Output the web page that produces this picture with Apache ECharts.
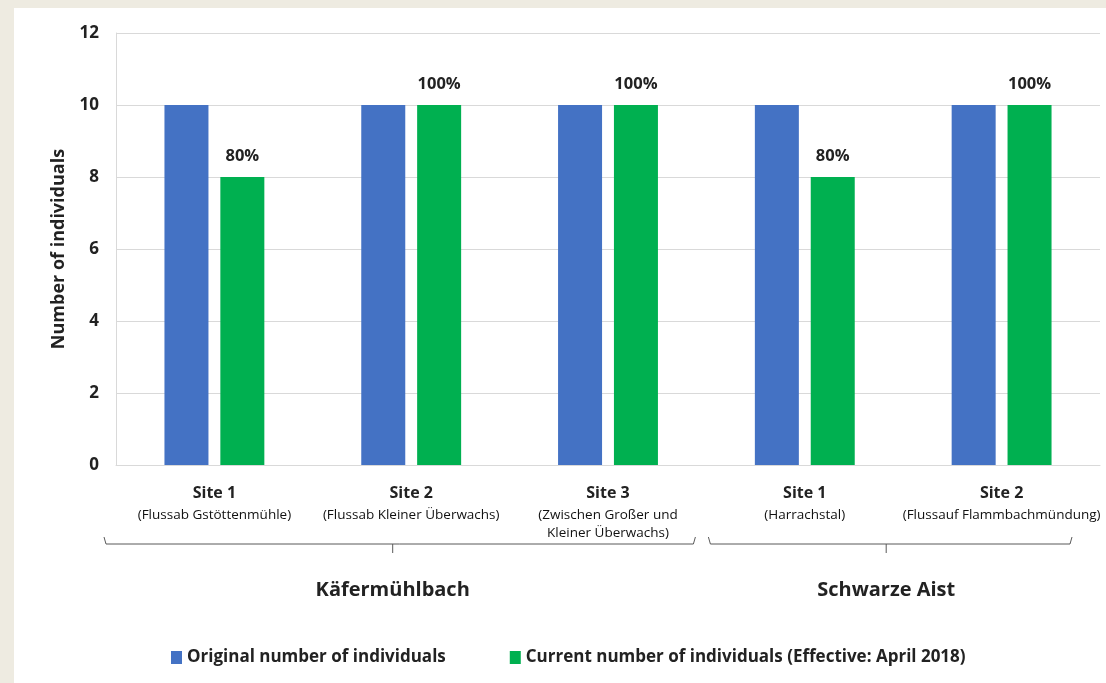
<!DOCTYPE html>
<html>
<head>
<meta charset="utf-8">
<script src="https://cdn.jsdelivr.net/npm/echarts@6/dist/echarts.min.js"></script>
<style>
  html, body {margin: 0; padding: 0; background: #EEEBE1; width: 1106px; height: 683px; overflow: hidden;}
  #chart {position: absolute; left: 14px; top: 8px; width: 1092px; height: 675px; background: #fff;}
</style>
</head>
<body>
<div id="chart"></div>
<script>
const sites = ['Site 1', 'Site 2', 'Site 3', 'Site 1', 'Site 2'];
const siteNotes = [
    ['(Flussab Gstöttenmühle)'],
    ['(Flussab Kleiner Überwachs)'],
    ['(Zwischen Großer und', 'Kleiner Überwachs)'],
    ['(Harrachstal)'],
    ['(Flussauf Flammbachmündung)']
];
const originalCount = [10, 10, 10, 10, 10];
const currentCount = [8, 10, 10, 8, 10];
const groups = ['Käfermühlbach', 'Schwarze Aist'];
const groupSpans = [[0, 2], [3, 4]];
const yTicks = [0, 2, 4, 6, 8, 10, 12];

const font = '"Open Sans", Lato, sans-serif';
const chart = echarts.init(document.getElementById('chart'));

const labels = sites.map((s, i) =>
    '{a|' + s + '}\n' + siteNotes[i].map(n => '{b|' + n + '}').join('\n'));

chart.setOption({
    animation: false,
    textStyle: {fontFamily: font},
    grid: {left: 102, right: 6, top: 25, bottom: 218},
    legend: {
        bottom: 12,
        left: 152,
        itemWidth: 11,
        itemHeight: 13,
        itemGap: 64,
        icon: 'rect',
        textStyle: {fontFamily: font, fontWeight: 'bold', fontSize: 17, color: '#222'},
        data: ['Original number of individuals', 'Current number of individuals (Effective: April 2018)']
    },
    xAxis: {
        type: 'category',
        data: labels,
        axisTick: {show: false},
        axisLine: {lineStyle: {color: '#D9D9D9', width: 1}},
        axisLabel: {
            interval: 0,
            margin: 15,
            formatter: v => v,
            rich: {
                a: {fontFamily: font, fontWeight: 'bold', fontSize: 16, color: '#222', lineHeight: 26},
                b: {fontFamily: font, fontSize: 13.5, color: '#111', lineHeight: 18}
            }
        }
    },
    yAxis: {
        type: 'value',
        min: yTicks[0],
        max: yTicks[yTicks.length - 1],
        interval: 2,
        name: 'Number of individuals',
        nameLocation: 'middle',
        nameGap: 48,
        nameTextStyle: {fontFamily: font, fontWeight: 'bold', fontSize: 18, color: '#222'},
        axisLine: {show: true, lineStyle: {color: '#D9D9D9'}},
        axisTick: {show: false},
        splitLine: {lineStyle: {color: '#D9D9D9'}},
        axisLabel: {fontFamily: font, fontWeight: 'bold', fontSize: 17, color: '#222', margin: 17}
    },
    series: [
        {
            name: 'Original number of individuals',
            type: 'bar',
            data: originalCount,
            barWidth: 44,
            barGap: '27%',
            itemStyle: {color: '#4472C4'}
        },
        {
            name: 'Current number of individuals (Effective: April 2018)',
            type: 'bar',
            data: currentCount,
            barWidth: 44,
            itemStyle: {color: '#00B050'},
            label: {
                show: true,
                position: 'top',
                distance: 12,
                fontFamily: font,
                fontWeight: 'bold',
                fontSize: 16.5,
                color: '#222',
                formatter: p => Math.round(p.value / originalCount[p.dataIndex] * 100) + '%'
            }
        }
    ]
});

// group brackets under the category labels
const catW = chart.convertToPixel({xAxisIndex: 0}, 1) - chart.convertToPixel({xAxisIndex: 0}, 0);
const edge = i => chart.convertToPixel({xAxisIndex: 0}, i) - catW / 2;
const bracketY = 536;
const pads = [[-12, -11], [2, -28]];
const elements = [];
groupSpans.forEach((span, g) => {
    const x1 = edge(span[0]) + pads[g][0];
    const x2 = edge(span[1] + 1) + pads[g][1];
    const mid = (x1 + x2) / 2 - (g === 0 ? 7 : 4);
    elements.push({
        type: 'polyline',
        shape: {points: [[x1, bracketY - 7], [x1 + 2, bracketY], [x2 - 2, bracketY], [x2, bracketY - 7]]},
        style: {stroke: '#595959', lineWidth: 1, fill: null}
    });
    elements.push({
        type: 'line',
        shape: {x1: mid, y1: bracketY, x2: mid, y2: bracketY + 9},
        style: {stroke: '#595959', lineWidth: 1}
    });
    elements.push({
        type: 'text',
        x: mid,
        y: 582,
        style: {
            text: groups[g],
            fontFamily: font,
            fontWeight: 'bold',
            fontSize: 20,
            fill: '#222',
            align: 'center',
            verticalAlign: 'middle'
        }
    });
});
chart.setOption({graphic: elements});
</script>
</body>
</html>
